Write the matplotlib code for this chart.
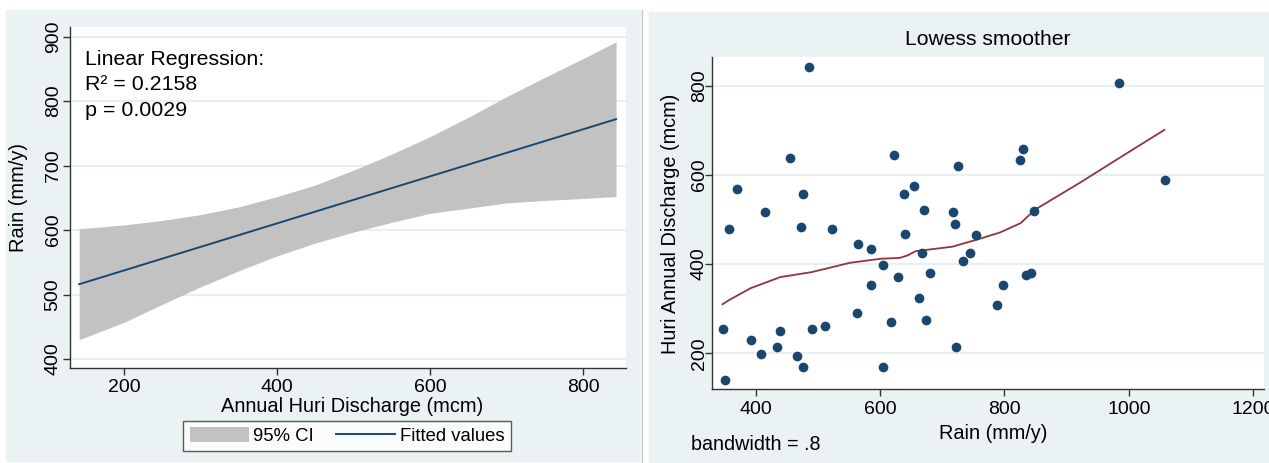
"""Huri discharge vs rain: linear fit with CI and lowess smoother."""

import matplotlib
matplotlib.use("Agg")
import matplotlib.pyplot as plt
from matplotlib.patches import Rectangle
from matplotlib.lines import Line2D

plt.rcParams["font.family"] = ["Liberation Sans", "DejaVu Sans"]

W, H = 1269, 463

# left panel: rain regressed on discharge
fit_x = [141, 843]
fit_y = [516, 772]
ci_x = [141, 200, 250, 300, 350, 400, 450, 500, 550, 600, 650, 700, 750, 800, 843]
ci_upper = [602, 608, 615, 624, 636, 652, 670, 693, 718, 745, 775, 807, 837, 866, 892]
ci_lower = [430, 457, 485, 512, 537, 560, 580, 597, 612, 626, 634, 642, 646, 649, 652]
left_xticks = [200, 400, 600, 800]
left_yticks = [400, 500, 600, 700, 800, 900]

# right panel: discharge vs rain
rain = [486, 455, 623, 370, 477, 415, 357, 473, 523, 565, 585, 605, 585,
        629, 563, 618, 347, 440, 491, 511, 392, 409, 434, 466, 477, 605,
        351, 725, 829, 825, 654, 639, 670, 717, 848, 721, 640, 754, 667,
        744, 733, 681, 834, 843, 798, 788, 662, 674, 722, 984, 1058]
discharge = [842, 639, 645, 569, 558, 517, 478, 484, 478, 445, 433, 399, 354,
             371, 291, 270, 254, 250, 254, 262, 230, 198, 214, 193, 169, 169,
             140, 619, 658, 633, 575, 557, 521, 517, 520, 490, 467, 466, 426,
             425, 408, 380, 376, 380, 353, 309, 325, 275, 215, 807, 589]
lowess_x = [347, 357, 392, 440, 490, 552, 601, 632, 645, 657, 681, 716,
            756, 793, 826, 849, 923, 988, 1057]
lowess_y = [310, 319, 346, 371, 382, 403, 412, 414, 420, 429, 433, 439,
            455, 471, 492, 522, 584, 641, 701]
right_xticks = [400, 600, 800, 1000, 1200]
right_yticks = [200, 400, 600, 800]

BG = "#eaf2f3"
NAVY = "#1a476f"
MAROON = "#90353b"
GRID = "#e4eef0"
AXC = "#333333"


def fx(px):
    return px / W


def fy(py):
    return 1 - py / H


def style_axes(ax, xpad, ypad):
    ax.set_facecolor("white")
    for s in ("top", "right"):
        ax.spines[s].set_visible(False)
    for s in ("left", "bottom"):
        ax.spines[s].set_color(AXC)
        ax.spines[s].set_linewidth(1.0)
    ax.tick_params(direction="out", length=5, width=1, color=AXC,
                   labelsize=14)
    ax.tick_params(axis="x", pad=xpad)
    ax.tick_params(axis="y", pad=ypad)
    for lab in ax.get_yticklabels():
        lab.set_rotation(90)
        lab.set_va("center")
    ax.grid(axis="y", color=GRID, linewidth=1.3)
    ax.set_axisbelow(True)


fig = plt.figure(figsize=(W / 100, H / 100), dpi=100)

# panel backgrounds
fig.add_artist(Rectangle((fx(6), fy(461)), fx(640) - fx(6), fy(10) - fy(461),
                         color=BG, zorder=0, transform=fig.transFigure))
fig.add_artist(Rectangle((fx(649), fy(462)), fx(1269) - fx(649), fy(12) - fy(462),
                         color=BG, zorder=0, transform=fig.transFigure))
fig.add_artist(Line2D([fx(642), fx(642)], [fy(10), fy(463)], color="#c8c8c8",
                      linewidth=1, transform=fig.transFigure))

# ---- left panel
ax1 = fig.add_axes([fx(70), fy(368), fx(626) - fx(70), fy(27) - fy(368)])
ax1.fill_between(ci_x, ci_lower, ci_upper, color="#c2c2c2", linewidth=0)
ax1.plot(fit_x, fit_y, color=NAVY, linewidth=1.4)
ax1.set_xlim(129, 856)
ax1.set_ylim(386, 915)
ax1.set_xticks(left_xticks)
ax1.set_yticks(left_yticks)
style_axes(ax1, xpad=3, ypad=1)

ax1.text(fx(85), fy(65), "Linear Regression:", transform=fig.transFigure,
         fontsize=15.4, va="baseline")
ax1.text(fx(85), fy(90.5), "R² = 0.2158", transform=fig.transFigure,
         fontsize=15.4, va="baseline")
ax1.text(fx(85), fy(116.5), "p = 0.0029", transform=fig.transFigure,
         fontsize=15.4, va="baseline")

fig.text(fx(352), fy(412), "Annual Huri Discharge (mcm)", fontsize=14.4,
         ha="center", va="baseline")
fig.text(fx(24.5), fy(197), "Rain (mm/y)", fontsize=14.4, rotation=90,
         rotation_mode="anchor", ha="center", va="baseline")

handles = [Rectangle((0, 0), 1, 1, facecolor="#c2c2c2", edgecolor="none"),
           Line2D([], [], color=NAVY, linewidth=1.4)]
leg = fig.legend(handles, ["95% CI", "Fitted values"], ncol=2,
                 loc="center", bbox_to_anchor=(fx(347), fy(436)),
                 fontsize=13.3, frameon=True, fancybox=False,
                 edgecolor=AXC, handlelength=3.2, handleheight=0.85,
                 handletextpad=0.25, columnspacing=1.2, borderpad=0.35,
                 borderaxespad=0)
leg.get_frame().set_linewidth(1.0)

# ---- right panel
ax2 = fig.add_axes([fx(712), fy(389), fx(1264) - fx(712), fy(56.7) - fy(389)])
ax2.plot(lowess_x, lowess_y, color=MAROON, linewidth=1.3, zorder=2)
ax2.plot(rain, discharge, "o", color=NAVY, markersize=7.0,
         markeredgewidth=0, zorder=3)
ax2.set_xlim(330, 1217)
ax2.set_ylim(120, 865)
ax2.set_xticks(right_xticks)
ax2.set_yticks(right_yticks)
style_axes(ax2, xpad=4, ypad=-2)

fig.text(fx(988), fy(45), "Lowess smoother", fontsize=15.2,
         ha="center", va="baseline")
fig.text(fx(993), fy(439), "Rain (mm/y)", fontsize=14.3,
         ha="center", va="baseline")
fig.text(fx(691), fy(450), "bandwidth = .8", fontsize=14.2,
         ha="left", va="baseline")
fig.text(fx(676.3), fy(223.7), "Huri Annual Discharge (mcm)", fontsize=14.3,
         rotation=90, rotation_mode="anchor", ha="center", va="baseline")

fig.savefig("out.png", dpi=100)
